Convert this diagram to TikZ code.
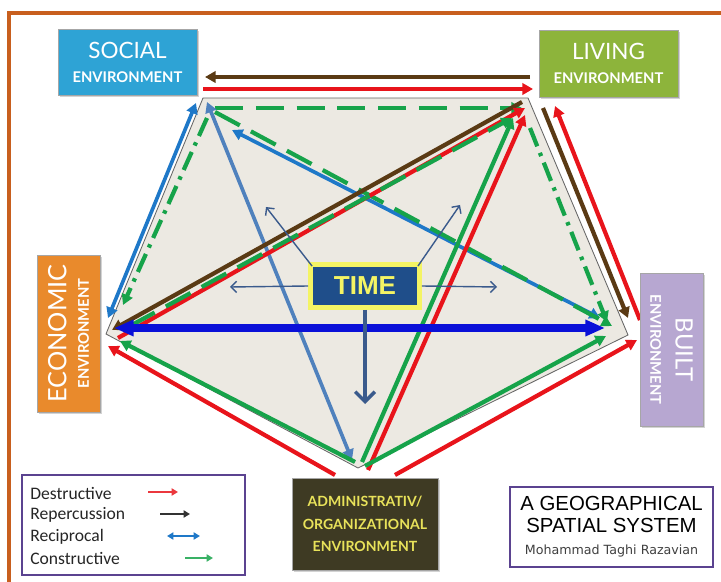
\documentclass[tikz,border=0pt]{standalone}
\usepackage{fontspec}
\setmainfont{Lato}
\newfontfamily\legendfont{Carlito}
\newfontfamily\titlefont{Liberation Sans}
\newfontfamily\namefont{DejaVu Sans}
\usetikzlibrary{arrows.meta,shadows}
\definecolor{frameOrange}{RGB}{200,95,30}
\definecolor{pentaFill}{RGB}{236,233,226}
\definecolor{socialBlue}{RGB}{46,163,213}
\definecolor{livingGreen}{RGB}{141,180,59}
\definecolor{econOrange}{RGB}{233,138,44}
\definecolor{builtLilac}{RGB}{183,167,209}
\definecolor{adminOlive}{RGB}{62,58,35}
\definecolor{adminYellow}{RGB}{232,226,90}
\definecolor{timeBlue}{RGB}{31,78,138}
\definecolor{timeYellow}{RGB}{244,244,100}
\definecolor{timeArrow}{RGB}{58,90,140}
\definecolor{destrRed}{RGB}{232,20,27}
\definecolor{repercBrown}{RGB}{90,58,20}
\definecolor{recipBlue}{RGB}{30,120,200}
\definecolor{steelBlue}{RGB}{79,129,189}
\definecolor{constrGreen}{RGB}{22,163,74}
\definecolor{deepBlue}{RGB}{10,16,216}
\definecolor{legendPurple}{RGB}{91,67,144}

\tikzset{
  tip/.tip={Triangle[length=7.5pt,width=8pt]},
  destr/.style={draw=destrRed,line width=3pt,-tip},
  reperc/.style={draw=repercBrown,line width=3pt,-tip},
  recip/.style={draw=recipBlue,line width=2.6pt,tip-tip},
  constr/.style={draw=constrGreen,line width=3pt,-tip},
  envbox/.style={align=center,inner sep=2pt,text=white,draw=black!35,line width=0.4pt,
    drop shadow={opacity=0.35,shadow xshift=1.2pt,shadow yshift=-1.2pt}},
  timearrow/.style={draw=timeArrow,line width=1pt,-{Straight Barb[length=4pt,width=8pt]}},
  keyarrow/.style={line width=1.3pt,-{Triangle[length=4.5pt,width=5pt]}},
  keyboth/.style={line width=1.3pt,{Triangle[length=4.5pt,width=5pt]}-{Triangle[length=4.5pt,width=5pt]}},
  keytext/.style={anchor=west,inner sep=0pt,text=black!85,font=\legendfont\fontsize{12.5}{14}\selectfont}
}

\begin{document}
\begin{tikzpicture}[x=0.025cm,y=-0.025cm]
\useasboundingbox (0,0) rectangle (721,582);
\draw[frameOrange,line width=2.2pt] (9,582) -- (9,13) -- (721,13);

% corners of the spatial system
\coordinate (pS) at (203,98);
\coordinate (pL) at (528,98);
\coordinate (pB) at (628,335);
\coordinate (pA) at (358,468);
\coordinate (pE) at (106,334);
\fill[pentaFill] (pS) -- (pL) -- (pB) -- (pA) -- (pE) -- cycle;
\draw[black!60,line width=0.6pt] (pS) -- (pL) -- (pB) -- (pA) -- (pE) -- cycle;

% social -- living
\draw[reperc] ([shift={(2,-21)}]pL) -- ([shift={(2,-21)}]pS);
\draw[destr] ([shift={(0,-9)}]pS) -- ([shift={(5,-9)}]pL);
\draw[constr,dash pattern=on 20pt off 9pt] ([shift={(12,10)}]pS) -- ([shift={(-6,10)}]pL);
% social -- economic
\draw[recip] ([shift={(-7,5)}]pS) -- ([shift={(2,-16)}]pE);
\draw[constr,dash pattern=on 14pt off 5pt on 2.5pt off 5pt] ([shift={(4,20)}]pS) -- ([shift={(17,-29)}]pE);
% social -- built
\draw[recip] ([shift={(29,32)}]pS) -- ([shift={(-28,-17)}]pB);
\draw[constr,dash pattern=on 20pt off 9pt] ([shift={(12,14)}]pS) -- ([shift={(-16,-9)}]pB);
% social -- administrative
\draw[recip,draw=steelBlue] ([shift={(4,4)}]pS) -- ([shift={(-6,-8)}]pA);
% living -- economic
\draw[reperc] ([shift={(-6,4)}]pL) -- ([shift={(6,-4)}]pE);
\draw[destr] ([shift={(12,4)}]pE) -- ([shift={(-3,10)}]pL);
\draw[constr,dash pattern=on 20pt off 9pt] ([shift={(24,-8)}]pE) -- ([shift={(-16,20)}]pL);
% living -- built
\draw[reperc] ([shift={(15,10)}]pL) -- ([shift={(0,-17)}]pB);
\draw[destr] ([shift={(12,-15)}]pB) -- ([shift={(27,8)}]pL);
\draw[constr,dash pattern=on 14pt off 5pt on 2.5pt off 5pt] ([shift={(2,30)}]pL) -- ([shift={(-21,-13)}]pB);
% living -- administrative
\draw[constr] ([shift={(4,-6)}]pA) -- ([shift={(-15,20)}]pL);
\draw[destr] ([shift={(10,2)}]pA) -- ([shift={(-3,17)}]pL);
% economic -- built
\draw[draw=deepBlue,line width=5.5pt,{Triangle[length=14pt,width=11pt]}-{Triangle[length=14pt,width=11pt]}] ([shift={(8,-6)}]pE) -- ([shift={(-23,-7)}]pB);
% economic -- administrative
\draw[constr] ([shift={(-3,-6)}]pA) -- ([shift={(14,7)}]pE);
\draw[destr] ([shift={(-23,7)}]pA) -- ([shift={(2,12)}]pE);
% built -- administrative
\draw[constr] ([shift={(7,-2)}]pA) -- ([shift={(-22,1)}]pB);
\draw[destr] ([shift={(37,7)}]pA) -- ([shift={(9,5)}]pB);

% time in the middle
\node[fill=timeBlue,draw=timeYellow,line width=3.5pt,minimum width=2.725cm,minimum height=1.075cm,
  text=timeYellow,font=\titlefont\bfseries\fontsize{18.5}{20}\selectfont] (time) at (365,286) {TIME};
\coordinate (tNW) at (266,207);
\coordinate (tNE) at (460,205);
\coordinate (tW) at (230,287);
\coordinate (tE) at (497,287);
\coordinate (tS) at (365,404);
\draw[timearrow] ([shift={(4,4)}]time.north west) -- (tNW);
\draw[timearrow] ([shift={(-4,4)}]time.north east) -- (tNE);
\draw[timearrow] (time.west) -- (tW);
\draw[timearrow] (time.east) -- (tE);
\draw[timearrow,line width=2.5pt,-{Straight Barb[length=7pt,width=14pt]}] (time.south) -- (tS);

% the five environments
\node[envbox,fill=socialBlue,minimum width=3.475cm,minimum height=1.65cm,font=\fontsize{16}{17}\selectfont] (social) at (127.5,62)
  {SOCIAL\\{\bfseries\fontsize{10.5}{12}\selectfont ENVIRONMENT}};
\node[envbox,fill=livingGreen,minimum width=3.475cm,minimum height=1.675cm,font=\fontsize{16}{17}\selectfont] (living) at (608.5,63.5)
  {LIVING\\{\bfseries\fontsize{10.5}{12}\selectfont ENVIRONMENT}};
\node[envbox,fill=econOrange,rotate=90,minimum width=3.925cm,minimum height=1.575cm,font=\fontsize{18}{16}\selectfont] (economic) at (68.5,333.5)
  {ECONOMIC\\{\bfseries\fontsize{10.5}{12}\selectfont ENVIRONMENT}};
\node[envbox,fill=builtLilac,rotate=-90,minimum width=3.825cm,minimum height=1.575cm,font=\fontsize{17}{18}\selectfont] (built) at (671.5,349.5)
  {BUILT\\{\bfseries\fontsize{10.5}{12}\selectfont ENVIRONMENT}};
\node[envbox,fill=adminOlive,text=adminYellow,minimum width=3.65cm,minimum height=2.3cm,font=\bfseries\fontsize{10}{16}\selectfont] (admin) at (365,524)
  {ADMINISTRATIV/\\ORGANIZATIONAL\\ENVIRONMENT};

% key
\node[draw=legendPurple,line width=1.2pt,fill=white,minimum width=5.575cm,minimum height=2.5cm] (legend) at (133.5,525) {};
\node[keytext] (kDestr) at (30,493) {Destructive};
\node[keytext] (kReperc) at (30,515) {Repercussion};
\node[keytext] (kRecip) at (30,537) {Reciprocal};
\node[keytext] (kConstr) at (30,558) {Constructive};
\draw[keyarrow,destrRed!85!white] (148,492) -- (178,492);
\draw[keyarrow,black!80] (160,514) -- (190,514);
\draw[keyboth,recipBlue] (167,536) -- (200,536);
\draw[keyarrow,constrGreen!85!white] (185,558) -- (213,558);

% title
\node[draw=legendPurple,line width=1.2pt,fill=white,minimum width=5.075cm,minimum height=2cm,align=center,
  font=\titlefont\fontsize{14.5}{15.6}\selectfont] (title) at (611.5,527)
  {A GEOGRAPHICAL\\SPATIAL SYSTEM\\{\namefont\fontsize{9}{11}\selectfont\color{black!75}Mohammad Taghi Razavian}};
\end{tikzpicture}
\end{document}
